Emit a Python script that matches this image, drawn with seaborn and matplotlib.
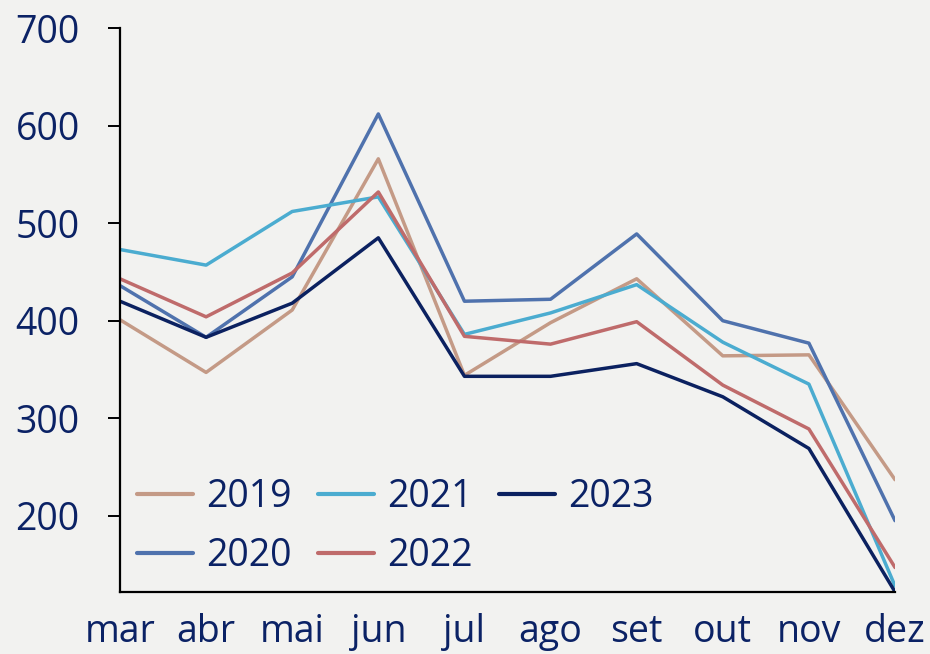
import matplotlib
matplotlib.use("Agg")
import matplotlib.pyplot as plt
import seaborn as sns
import pandas as pd

months = ["mar", "abr", "mai", "jun", "jul", "ago", "set", "out", "nov", "dez"]
years = ["2019", "2020", "2021", "2022", "2023"]
v2019 = [401, 347, 411, 566, 344, 398, 443, 364, 365, 237]
v2020 = [436, 383, 445, 612, 420, 422, 489, 400, 377, 195]
v2021 = [473, 457, 512, 527, 386, 408, 437, 378, 335, 128]
v2022 = [443, 404, 449, 532, 384, 376, 399, 334, 289, 147]
v2023 = [420, 383, 418, 485, 343, 343, 356, 322, 269, 122]
yticks = [200, 300, 400, 500, 600, 700]

colors = {"2019": "#c49a86", "2020": "#4f72ad", "2021": "#4bacd0",
          "2022": "#bf6b6b", "2023": "#0b2160"}
text_color = "#0b2265"
bg = "#f2f2f0"

rows = []
for y, vals in zip(years, [v2019, v2020, v2021, v2022, v2023]):
    for m, v in zip(months, vals):
        rows.append({"month": m, "value": v, "year": y})
df = pd.DataFrame(rows)

sns.set_style("white")
plt.rcParams["font.family"] = ["Open Sans", "DejaVu Sans"]

fig = plt.figure(figsize=(9.3, 6.54), dpi=100, facecolor=bg)
ax = fig.add_axes([0.129, 0.095, 0.8334, 0.862])
ax.set_facecolor(bg)

sns.lineplot(data=df, x="month", y="value", hue="year", palette=colors,
             hue_order=years, sort=False, linewidth=2.5, ax=ax)

ax.set_xlim(0, len(months) - 1)
ax.set_ylim(122, 700)
ax.set_yticks(yticks)
ax.set_xlabel("")
ax.set_ylabel("")

for s in ["top", "right"]:
    ax.spines[s].set_visible(False)
for s in ["left", "bottom"]:
    ax.spines[s].set_color("black")
    ax.spines[s].set_linewidth(1.6)

ax.tick_params(axis="y", direction="out", length=9, width=1.4, color="black",
               labelsize=27, labelcolor=text_color, pad=20, left=True)
ax.tick_params(axis="x", length=0, labelsize=27, labelcolor=text_color, pad=15)

leg = ax.legend(ncol=3, loc="lower left", bbox_to_anchor=(0.0, 0.0),
                frameon=False, fontsize=27, handlelength=1.5,
                handletextpad=0.35, columnspacing=0.7, labelspacing=0.55,
                borderaxespad=0.05)
for t in leg.get_texts():
    t.set_color(text_color)
for h in leg.get_lines():
    h.set_linewidth(3)

fig.savefig("out.png", dpi=100, facecolor=bg)
